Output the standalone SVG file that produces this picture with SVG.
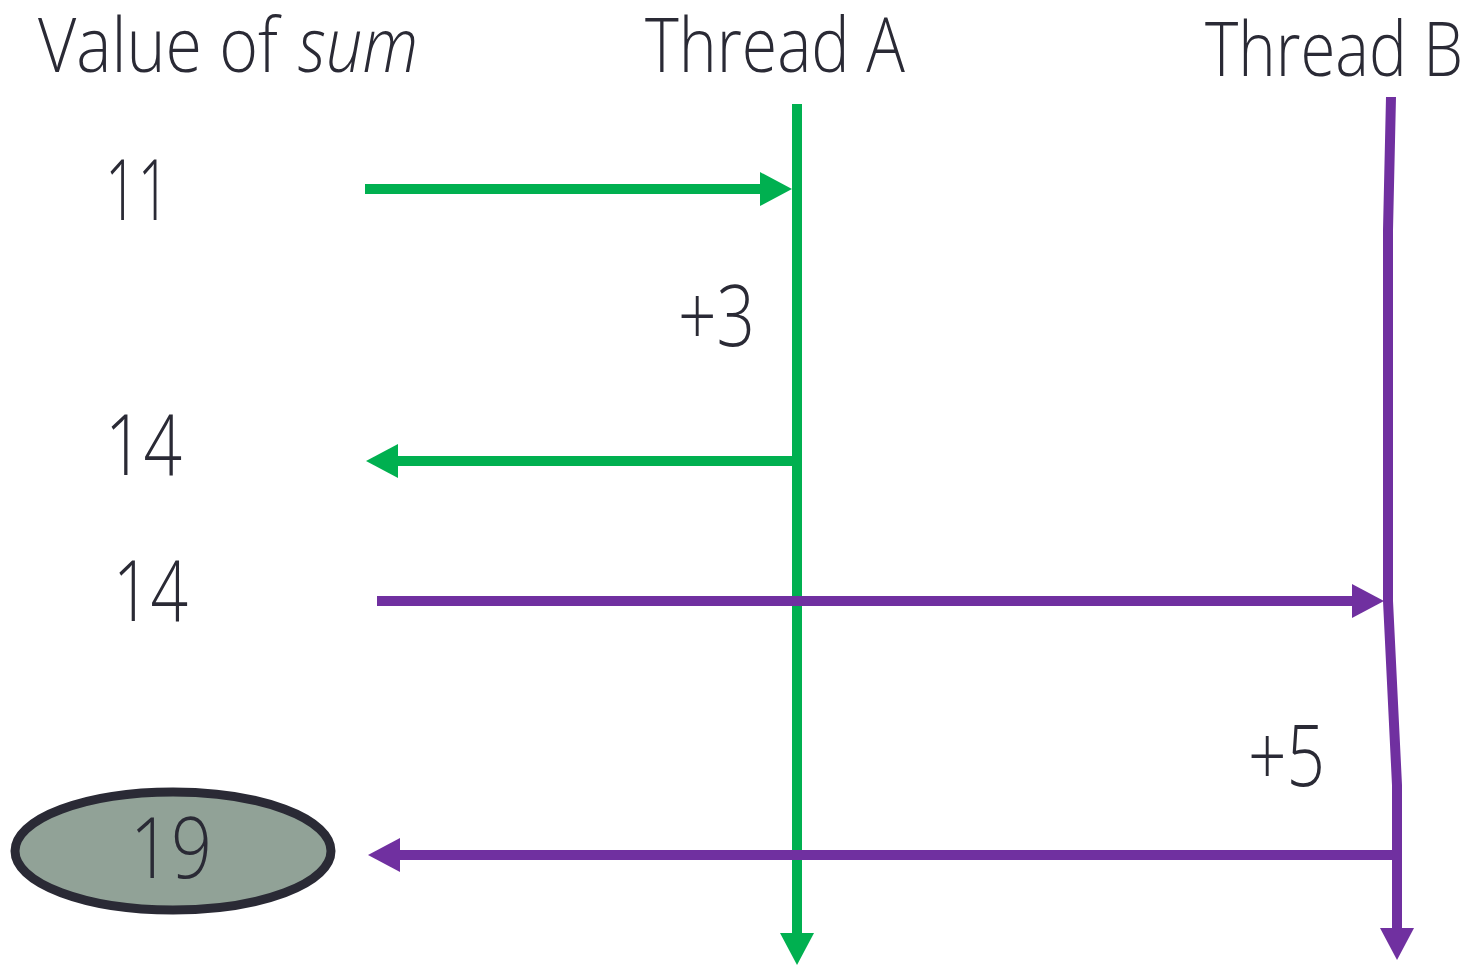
<svg xmlns="http://www.w3.org/2000/svg" width="1470" height="966" viewBox="0 0 1470 966">
  <style>
    .lbl { font-family: "Open Sans", "Liberation Sans", sans-serif; font-weight: 300; fill: #2a2a35; }
    .g { stroke: #00b050; stroke-width: 10; fill: none; }
    .p { stroke: #7030a0; stroke-width: 10; fill: none; }
  </style>
  <defs>
    <marker id="headG" markerUnits="userSpaceOnUse" viewBox="0 0 32 34" refX="2" refY="17" markerWidth="32" markerHeight="34" orient="auto">
      <path d="M0,0 L32,17 L0,34 Z" fill="#00b050"/>
    </marker>
    <marker id="headP" markerUnits="userSpaceOnUse" viewBox="0 0 32 34" refX="2" refY="17" markerWidth="32" markerHeight="34" orient="auto">
      <path d="M0,0 L32,17 L0,34 Z" fill="#7030a0"/>
    </marker>
  </defs>

  <!-- column headings -->
  <g id="heading-sum">
    <text class="lbl" x="38" y="72" font-size="76" textLength="240" lengthAdjust="spacingAndGlyphs">Value of</text>
    <text class="lbl" x="298" y="72" font-size="76" font-style="italic" textLength="120" lengthAdjust="spacingAndGlyphs">sum</text>
  </g>
  <g id="heading-thread-a">
    <text class="lbl" x="645" y="72" font-size="76" textLength="260" lengthAdjust="spacingAndGlyphs">Thread A</text>
  </g>
  <g id="heading-thread-b">
    <text class="lbl" x="1205" y="76" font-size="76" textLength="258" lengthAdjust="spacingAndGlyphs">Thread B</text>
  </g>

  <!-- values of sum -->
  <g id="value-11"><text class="lbl" x="105" y="220" font-size="84" textLength="65" lengthAdjust="spacingAndGlyphs">11</text></g>
  <g id="value-14a"><text class="lbl" x="105" y="475" font-size="84" textLength="77" lengthAdjust="spacingAndGlyphs">14</text></g>
  <g id="value-14b"><text class="lbl" x="113" y="621" font-size="84" textLength="75" lengthAdjust="spacingAndGlyphs">14</text></g>
  <g id="value-19">
    <ellipse cx="173" cy="851" rx="158" ry="59" fill="#91a297" stroke="#2a2a35" stroke-width="9"/>
    <text class="lbl" x="130" y="878" font-size="84" textLength="82" lengthAdjust="spacingAndGlyphs">19</text>
  </g>

  <!-- increments -->
  <g id="inc-3"><text class="lbl" x="678" y="346" font-size="84" textLength="77" lengthAdjust="spacingAndGlyphs">+3</text></g>
  <g id="inc-5"><text class="lbl" x="1248" y="786" font-size="84" textLength="77" lengthAdjust="spacingAndGlyphs">+5</text></g>

  <!-- timelines and transfers -->
  <g id="connectors">
    <line class="g" x1="797" y1="104" x2="797" y2="935" marker-end="url(#headG)"/>
    <polyline class="p" points="1391,97 1388,230 1388,601 1397,785 1397,930" marker-end="url(#headP)"/>
    <line class="g" x1="365" y1="189" x2="762" y2="189" marker-end="url(#headG)"/>
    <line class="g" x1="797" y1="461" x2="396" y2="461" marker-end="url(#headG)"/>
    <line class="p" x1="377" y1="601" x2="1354" y2="601" marker-end="url(#headP)"/>
    <line class="p" x1="1397" y1="855" x2="398" y2="855" marker-end="url(#headP)"/>
  </g>
</svg>
